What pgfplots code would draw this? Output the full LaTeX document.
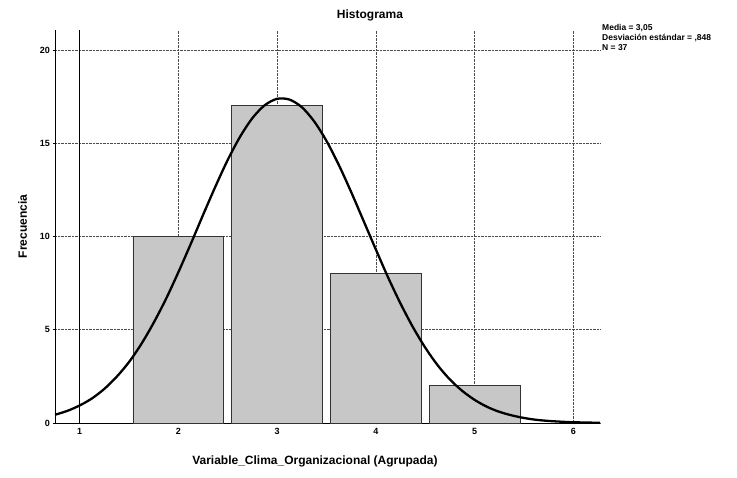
\documentclass[border=0pt]{standalone}
\usepackage{fontspec}
\setmainfont{Liberation Sans}
\usepackage{pgfplots}
\pgfplotsset{compat=1.18}
\begin{document}
\begin{tikzpicture}[x=1pt,y=1pt]
\path[use as bounding box] (-55,-55) rectangle (682,423);
\begin{axis}[
  at={(0,0)}, anchor=origin,
  scale only axis, width=545pt, height=393pt,
  xmin=0.75, xmax=6.27, ymin=0, ymax=21.07,
  axis x line=bottom, axis y line=left,
  axis line style={-, line width=0.9pt, black},
  xtick={1,2,3,4,5,6}, ytick={0,5,10,15,20},
  tick style={black, line width=0.5pt},
  major tick length=3pt,
  grid=major,
  major grid style={densely dotted, line width=0.5pt, black!70},
  /pgf/number format/assume math mode=true,
  ticklabel style={font=\fontsize{9}{10}\selectfont\bfseries},
  xlabel={Variable\_Clima\_Organizacional (Agrupada)},
  ylabel={Frecuencia},
  label style={font=\fontsize{12}{14}\selectfont\bfseries},
  xlabel style={at={(axis description cs:0.477,0)}, anchor=north, yshift=-29pt},
  ylabel style={yshift=6pt},
  clip=false,
]
\addplot[ybar, bar width=0.92, fill=black!22, draw=black!80, line width=0.9pt]
  coordinates {(2,10) (3,17) (4,8) (5,2)};
\addplot[smooth, line width=2.3pt, black, mark=none] coordinates {
(0.75,0.44) (0.875,0.65) (1.0,0.94) (1.125,1.32) (1.25,1.83) (1.375,2.48)
(1.5,3.27) (1.625,4.24) (1.75,5.38) (1.875,6.66) (2.0,8.09) (2.125,9.60)
(2.25,11.16) (2.375,12.68) (2.5,14.11) (2.625,15.35) (2.75,16.35) (2.875,17.04)
(3.0,17.38) (3.125,17.34) (3.25,16.93) (3.375,16.17)
(3.5,15.12) (3.625,13.83) (3.75,12.38) (3.875,10.84) (4.0,9.30) (4.125,7.79)
(4.25,6.40) (4.375,5.14) (4.5,4.04) (4.625,3.10) (4.75,2.33) (4.875,1.72)
(5.0,1.24) (5.125,0.87) (5.25,0.60) (5.375,0.41) (5.5,0.27) (5.625,0.17)
(5.75,0.11) (5.875,0.07) (6.0,0.04) (6.27,0.01)};
\draw[line width=0.8pt] (axis cs:1,0) -- (axis cs:1,21.07);
\end{axis}
\node[font=\fontsize{12}{14}\selectfont\bfseries] at (315,408) {Histograma};
\node[anchor=north west, align=left, font=\fontsize{8.5}{10}\selectfont\bfseries, inner sep=0pt]
  at (547,399) {Media = 3,05\\Desviación estándar = ,848\\N = 37};
\end{tikzpicture}
\end{document}
